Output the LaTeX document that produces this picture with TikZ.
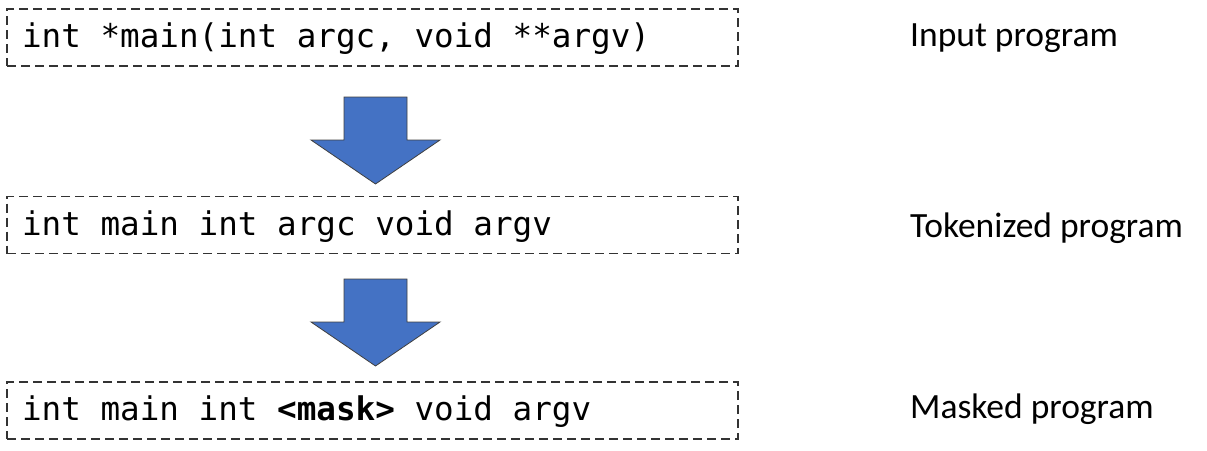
\documentclass[tikz,border=0pt]{standalone}
\usepackage{fontspec}
\setmainfont{Carlito}
\setmonofont{DejaVu Sans Mono}
\usepackage{tikz}
\definecolor{arrowblue}{HTML}{4472C4}

\begin{document}
\begin{tikzpicture}[x=1pt, y=-1pt,
    codebox/.style = {shape=rectangle, draw=black!80, line width=1.3pt, dash pattern=on 9pt off 5pt,
        minimum width=731pt, minimum height=57pt, inner xsep=15pt,
        text height=26pt, text depth=6pt, font=\fontsize{32.6}{38}\selectfont\ttfamily},
    steplabel/.style = {anchor=base west, inner sep=0pt, font=\fontsize{35.5}{40}\selectfont},
    blockarrow/.style = {fill=arrowblue, draw=black!75, line width=0.8pt, line join=miter}]
    \useasboundingbox (0,0) rectangle (1207,450);
            \node[codebox] (input) at (372.5,37.5) {\makebox[701pt][l]{int *main(int argc, void **argv)}};
            \node[codebox] (tokens) at (372.5,225) {\makebox[701pt][l]{int main int argc void argv}};
            \node[codebox] (masked) at (372.5,410.5) {\makebox[701pt][l]{int main int \textbf{<mask>} void argv}};
            \node[steplabel] (inputlabel) at (910,46) {Input program};
            \node[steplabel] (tokenslabel) at (910,237) {Tokenized program};
            \node[steplabel] (maskedlabel) at (910,418) {Masked program};
            % block arrows between the stages
            \coordinate (arrA) at (375.5,97);
            \coordinate (arrB) at (375.5,279);
            \foreach \a in {arrA, arrB}
                \draw[blockarrow] (\a) ++(-31.5,0) -- ++(63,0) -- ++(0,43) -- ++(33,0)
                    -- ++(-64.5,44) -- ++(-64.5,-44) -- ++(33,0) -- cycle;
        \end{tikzpicture}
\end{document}
